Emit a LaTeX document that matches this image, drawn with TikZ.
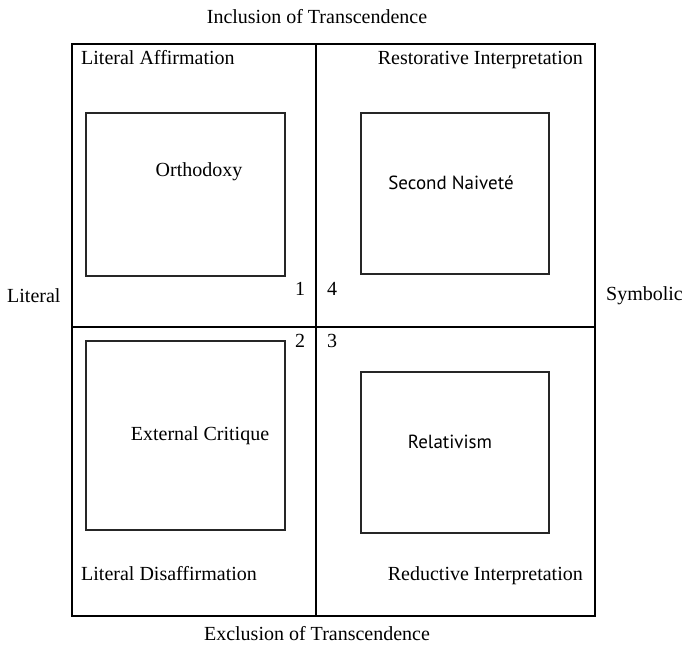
\documentclass[tikz,border=0pt]{standalone}
\usepackage{fontspec}
\setmainfont{Liberation Serif}
\newfontfamily\sansf{PT Sans}
\begin{document}
\begin{tikzpicture}[x=1pt,y=-1pt,
  lbl/.style={font=\fontsize{20}{24}\selectfont, inner sep=0pt},
  slbl/.style={font=\sansf\fontsize{19}{23}\selectfont, inner sep=0pt},
  frame/.style={line width=1.3pt, black},
  boxst/.style={draw=black!85, line width=1.3pt, inner sep=0pt}]
\useasboundingbox (0,0) rectangle (684,646);
% frame
\draw[frame] (72,44) rectangle (595,616);
\draw[frame] (316,44) -- (316,616);
\draw[frame] (72,327) -- (595,327);
% inner boxes
\node[boxst, minimum width=199pt, minimum height=163pt] (ortho) at (185.5,194.5) {};
\node[boxst, minimum width=188pt, minimum height=161pt] (naive) at (455,193.5) {};
\node[boxst, minimum width=199pt, minimum height=189pt] (ext) at (185.5,435.5) {};
\node[boxst, minimum width=188pt, minimum height=161pt] (rel) at (455,452.5) {};
% box texts
\node[lbl] (orthot) at (199,172) {Orthodoxy};
\node[slbl] (naivet) at (451,183) {Second Naiveté};
\node[lbl] (extt) at (200,436) {External Critique};
\node[slbl] (relt) at (450,442) {Relativism};
% quadrant labels
\node[lbl, anchor=base west] (la) at (81,64) {Literal Affirmation};
\node[lbl, anchor=base east] (ri) at (583,64) {Restorative Interpretation};
\node[lbl, anchor=base west] (ld) at (81,580) {Literal Disaffirmation};
\node[lbl, anchor=base east] (rdi) at (583,580) {Reductive Interpretation};
% numbers
\node[lbl, anchor=base] (n1) at (300,295) {1};
\node[lbl, anchor=base] (n4) at (332,295) {4};
\node[lbl, anchor=base] (n2) at (300,347) {2};
\node[lbl, anchor=base] (n3) at (332,347) {3};
% axis labels
\node[lbl] (inc) at (317,17) {Inclusion of Transcendence};
\node[lbl] (exc) at (317,634) {Exclusion of Transcendence};
\node[lbl, anchor=west] (lit) at (7,296) {Literal};
\node[lbl, anchor=east] (sym) at (683,296) {Symbolic};
\end{tikzpicture}
\end{document}
